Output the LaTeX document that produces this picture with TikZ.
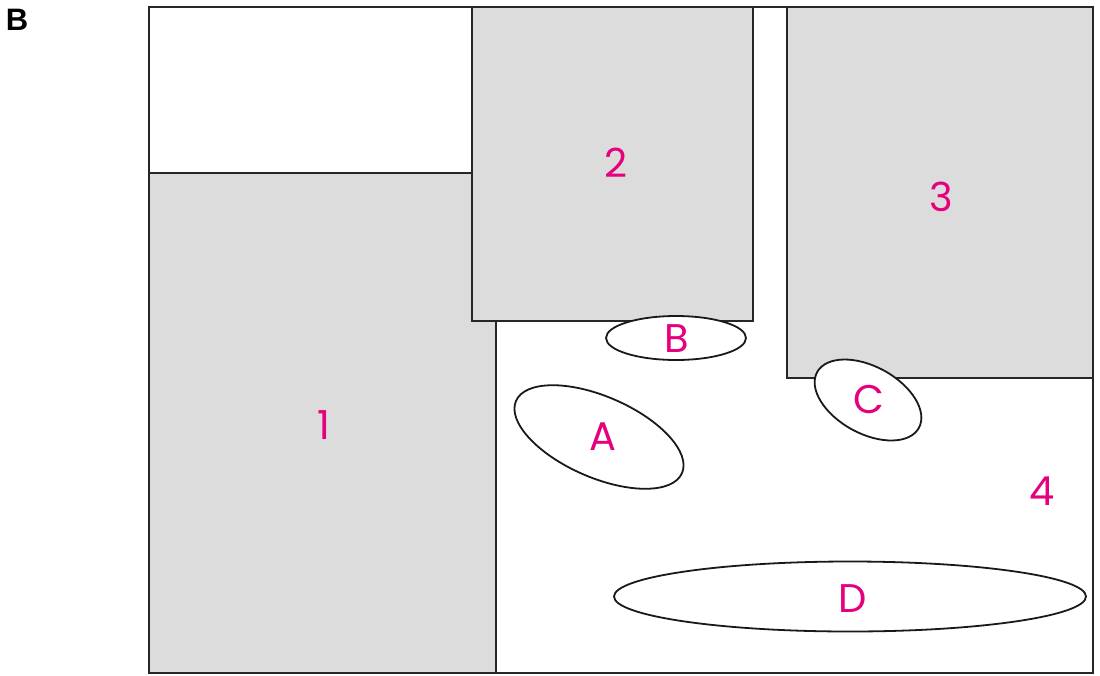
\documentclass[tikz,border=0pt]{standalone}
\usepackage{fontspec}
\setmainfont{Poppins}
\newfontfamily\panelfont{Liberation Sans}
\usetikzlibrary{positioning}
\definecolor{zonegrey}{HTML}{DCDCDC}
\definecolor{zonepink}{HTML}{E6007E}

\tikzset{
  zone/.style={fill=zonegrey, draw=black!85, line width=1.3pt},
  blob/.style={fill=white, draw=black!90, line width=1.8pt},
  zonelabel/.style={font=\fontsize{40}{44}\selectfont, text=zonepink, inner sep=0pt},
}

\begin{document}
\begin{tikzpicture}[x=1pt, y=-1pt]
  \useasboundingbox (0,0) rectangle (1100,675);
  % shaded zones
  \draw[zone] (149,173) rectangle (496,673);
  \draw[zone] (472,7) rectangle (753,321);
  \draw[zone] (787,7) rectangle (1093,378);
  % outer frame
  \draw[draw=black!85, line width=1.3pt] (149,7) rectangle (1093,673);
  % blobs
  \draw[blob, rotate around={-23.5:(599,437)}] (599,437) ellipse [x radius=90.5, y radius=40.5];
  \draw[blob] (676,338) ellipse [x radius=70, y radius=22];
  \draw[blob, rotate around={-28.7:(868,400)}] (868,400) ellipse [x radius=58, y radius=33.5];
  \draw[blob] (850,596.5) ellipse [x radius=236, y radius=35];
  % labels
  \node[zonelabel] (z1) at (324,425) {1};
  \node[zonelabel] (z2) at (616,163) {2};
  \node[zonelabel] (z3) at (941,197) {3};
  \node[zonelabel] (z4) at (1042,491) {4};
  \node[zonelabel] (bA) at (603,437) {A};
  \node[zonelabel] (bB) at (677,339) {B};
  \node[zonelabel] (bC) at (869,399) {C};
  \node[zonelabel] (bD) at (853,599) {D};
  \node[font=\panelfont\bfseries\fontsize{31}{34}\selectfont, inner sep=0pt] (panel) at (17,20) {B};
\end{tikzpicture}
\end{document}
